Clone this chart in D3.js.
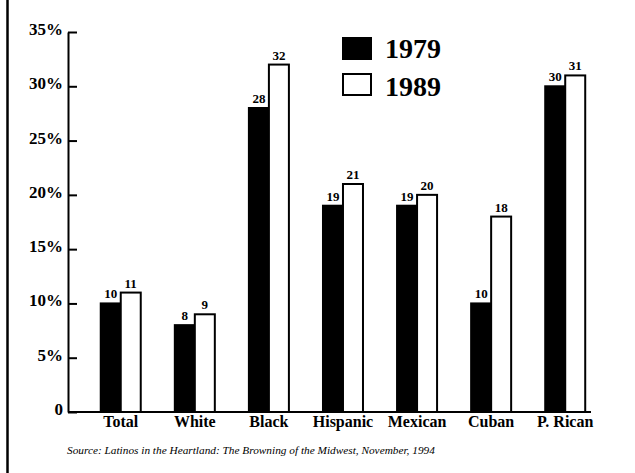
<!DOCTYPE html>
<html>
<head>
<meta charset="utf-8">
<script src="https://cdn.jsdelivr.net/npm/d3@7"></script>
<style>
  html, body { margin: 0; padding: 0; background: #fff; }
  svg { display: block; }
  text { font-family: "Liberation Serif", "Times New Roman", serif; fill: #000; }
</style>
</head>
<body>
<script>
// Poverty rates by group, 1979 vs 1989 (percent)
const categories = ["Total", "White", "Black", "Hispanic", "Mexican", "Cuban", "P. Rican"];
const years = ["1979", "1989"];
const values1979 = [10, 8, 28, 19, 19, 10, 30];
const values1989 = [11, 9, 32, 21, 20, 18, 31];
const yTicks = [0, 5, 10, 15, 20, 25, 30, 35];
const sourceNote = "Source: Latinos in the Heartland: The Browning of the Midwest, November, 1994";

const W = 635, H = 473;
const plot = { left: 68, right: 591, top: 32, bottom: 412 };
const serif = '"Liberation Serif", "Times New Roman", serif';

const svg = d3.select("body").append("svg")
  .attr("width", W).attr("height", H);

svg.append("rect").attr("width", W).attr("height", H).attr("fill", "#fff");

// page rule down the left edge
svg.append("line")
  .attr("x1", 7.5).attr("x2", 7.5).attr("y1", 0).attr("y2", H)
  .attr("stroke", "#000").attr("stroke-width", 2.5);

const y = d3.scaleLinear().domain([0, 35]).range([plot.bottom, plot.top]);

const x = d3.scaleBand()
  .domain(categories)
  .range([plot.left, plot.right])
  .paddingInner(0.46)
  .paddingOuter(0.26)
  .align(0.85);

const xInner = d3.scaleBand().domain(years).range([0, x.bandwidth()]);

const rows = categories.map((c, i) => ({
  category: c,
  bars: [
    { year: "1979", value: values1979[i] },
    { year: "1989", value: values1989[i] }
  ]
}));

// y axis: ticks point into the plot
const yAxis = d3.axisLeft(y)
  .tickValues(yTicks)
  .tickSize(-9)
  .tickSizeOuter(0)
  .tickPadding(5)
  .tickFormat(d => d === 0 ? "0" : d + "%");

const gy = svg.append("g")
  .attr("transform", `translate(${plot.left},0)`)
  .call(yAxis)
  .attr("font-family", serif);
gy.select(".domain").attr("stroke", "#000").attr("stroke-width", 2);
gy.selectAll(".tick line").attr("stroke", "#000").attr("stroke-width", 2);
gy.selectAll(".tick text")
  .attr("dy", "0.15em")
  .style("font-family", serif)
  .style("font-weight", "bold")
  .style("font-size", "17px");

// bars
const groups = svg.append("g").selectAll("g")
  .data(rows).join("g")
  .attr("transform", d => `translate(${x(d.category)},0)`);

groups.selectAll("rect")
  .data(d => d.bars).join("rect")
  .attr("x", d => xInner(d.year))
  .attr("y", d => y(d.value))
  .attr("width", xInner.bandwidth())
  .attr("height", d => y(0) - y(d.value))
  .attr("fill", d => d.year === "1979" ? "#000" : "#fff")
  .attr("stroke", "#000")
  .attr("stroke-width", 2);

groups.selectAll("text.val")
  .data(d => d.bars).join("text")
  .attr("class", "val")
  .attr("x", d => xInner(d.year) + xInner.bandwidth() / 2)
  .attr("y", d => y(d.value) - 5)
  .attr("text-anchor", "middle")
  .style("font-weight", "bold")
  .style("font-size", "13px")
  .text(d => d.value);

// x axis: baseline and category labels
svg.append("line")
  .attr("x1", plot.left).attr("x2", plot.right)
  .attr("y1", y(0)).attr("y2", y(0))
  .attr("stroke", "#000").attr("stroke-width", 2);

const xAxis = d3.axisBottom(x).tickSize(0).tickPadding(4);
const gx = svg.append("g")
  .attr("transform", `translate(0,${y(0)})`)
  .call(xAxis)
  .attr("font-family", serif);
gx.select(".domain").remove();
gx.selectAll(".tick text")
  .style("font-family", serif)
  .style("font-weight", "bold")
  .style("font-size", "16px");

// legend
const legend = svg.append("g").attr("transform", "translate(343,38)");
const legendItems = legend.selectAll("g")
  .data(years).join("g")
  .attr("transform", (d, i) => `translate(0,${i * 36})`);
legendItems.append("rect")
  .attr("width", 28).attr("height", 21)
  .attr("fill", d => d === "1979" ? "#000" : "#fff")
  .attr("stroke", "#000").attr("stroke-width", 2);
legendItems.append("text")
  .attr("x", 42).attr("y", (d, i) => 20 + i * 2)
  .style("font-weight", "bold")
  .style("font-size", "28px")
  .text(d => d);

// source note
svg.append("text")
  .attr("x", 67).attr("y", 454)
  .style("font-style", "italic")
  .style("font-size", "11.3px")
  .text(sourceNote);
</script>
</body>
</html>
